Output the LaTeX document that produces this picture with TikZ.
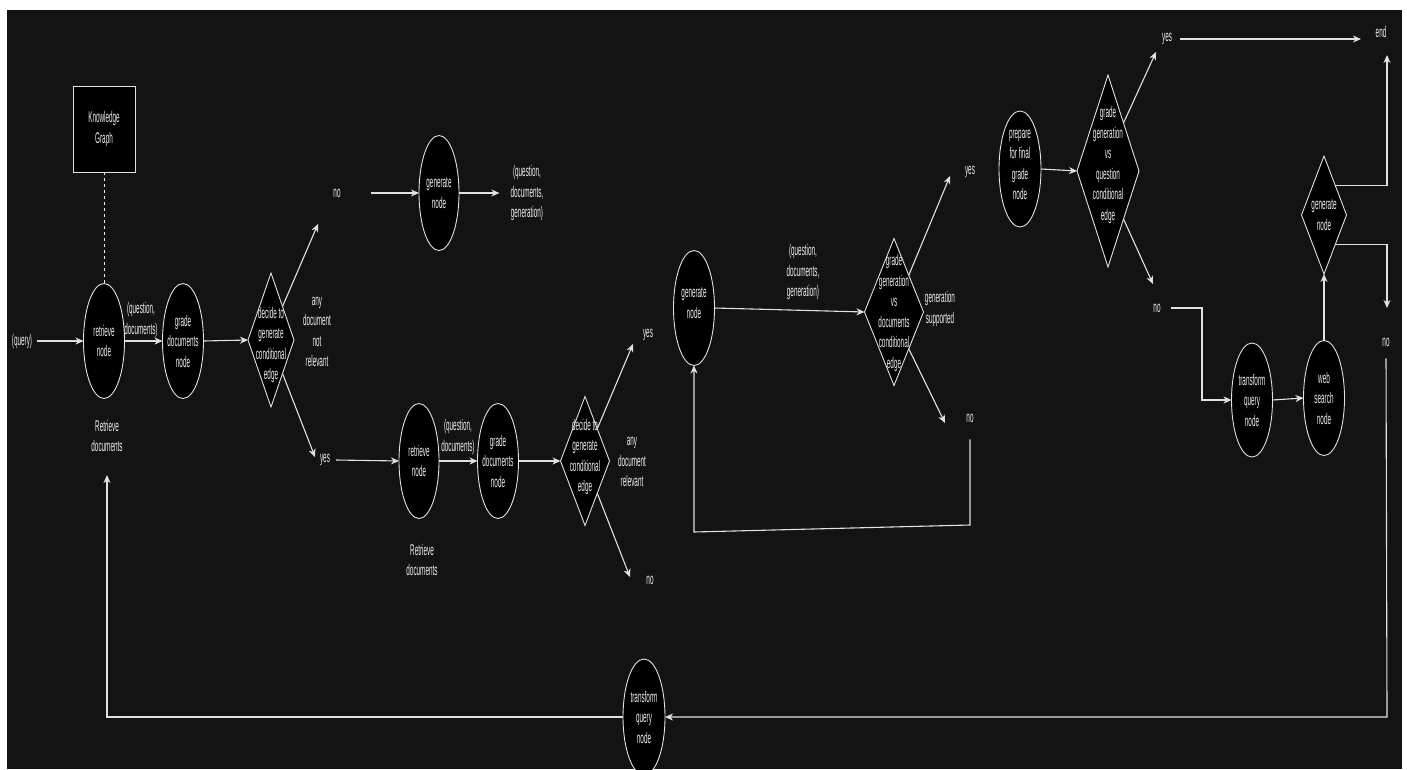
\documentclass[tikz,border=0pt]{standalone}
\usepackage{fontspec}
\setmainfont{Liberation Sans}[FakeStretch=0.41]
\usetikzlibrary{shapes.geometric,arrows.meta}
\definecolor{bg}{RGB}{19,19,19}
\definecolor{lc}{RGB}{225,225,225}
\definecolor{tx}{RGB}{238,238,238}
\begin{document}
\begin{tikzpicture}[x=1pt,y=-1pt,
 txt/.style={text=tx,align=center,font=\fontsize{15.5}{20.5}\selectfont,inner sep=0pt},
 ell/.style={ellipse,draw=lc,fill=black,line width=0.9pt,minimum width=41pt,minimum height=115pt,inner sep=0pt,outer sep=0pt},
 dia/.style={diamond,draw=lc,fill=black,line width=0.9pt,inner sep=0pt,outer sep=0pt},
 arr/.style={draw=lc,line width=1.1pt,-{Stealth[length=8pt,width=7pt,inset=2.5pt]}},
 wire/.style={draw=lc,line width=1.1pt}]
\useasboundingbox (0,0) rectangle (1407,769);
\clip (0,0) rectangle (1407,769);
\fill[white] (0,0) rectangle (1407,769);
\fill[bg] (7,10) rectangle (1402,769);

% ---------- left part ----------
\node[draw=lc,fill=black,line width=0.9pt,minimum width=62pt,minimum height=86pt,inner sep=0pt] (kg) at (104,129) {};
\node[txt] (kgt) at (kg) {Knowledge\\Graph};
\node[txt] (query) at (22,341) {(query)};
\node[ell] (r1) at (104,341) {};
\node[txt] (r1t) at (r1) {retrieve\\node};
\node[txt] (l1) at (141,320) {(question,\\documents)};
\node[ell] (g1) at (183,341) {};
\node[txt] (g1t) at (g1) {grade\\documents\\node};
\node[dia,minimum width=46pt,minimum height=134pt] (d1) at (271,340) {};
\node[txt] (d1t) at (271,345) {decide to\\generate\\conditional\\edge};
\node[txt] (a1) at (317,332) {any\\document\\not\\relevant};
\node[txt] (no1) at (337,193) {no};
\node[txt] (yes1) at (325,460) {yes};
\node[txt] (rd1) at (107,436) {Retrieve\\documents};

\draw[dashed,draw=lc!70,line width=0.7pt] (kg.south) -- (r1.north);
\draw[arr] ([xshift=5pt]query.east) -- (r1.west);
\draw[arr] (r1.east) -- (g1.west);
\draw[arr] (g1.east) -- (d1.west);
\coordinate (e1) at (318,224);
\coordinate (e2) at (315,457);
\draw[arr] (d1.north east) -- (e1);
\draw[arr] (d1.south east) -- (e2);

% ---------- upper generate ----------
\node[ell,minimum width=40pt] (gen1) at (439,193) {};
\node[txt] (gen1t) at (gen1) {generate\\node};
\node[txt] (out1) at (527,193) {(question,\\documents,\\generation)};
\draw[arr] ([xshift=30pt]no1.east) -- (gen1.west);
\draw[arr] (gen1.east) -- ([xshift=-11pt]out1.west);

% ---------- lower chain ----------
\node[ell,minimum width=40pt] (r2) at (419,461) {};
\node[txt] (r2t) at (r2) {retrieve\\node};
\node[txt] (l2) at (458,437) {(question,\\documents)};
\node[ell] (g2) at (498,461) {};
\node[txt] (g2t) at (g2) {grade\\documents\\node};
\node[dia,minimum width=49pt,minimum height=129pt] (d2) at (585,461) {};
\node[txt] (d2t) at (585,457) {decide to\\generate\\conditional\\edge};
\node[txt] (a2) at (632,462) {any\\document\\relevant};
\node[txt] (yes2) at (648,335) {yes};
\node[txt] (no2) at (650,580) {no};
\node[txt] (rd2) at (422,560) {Retrieve\\documents};
\draw[arr] ([xshift=6pt]yes1.east) -- (r2.west);
\draw[arr] (r2.east) -- (g2.west);
\draw[arr] (g2.east) -- (d2.west);
\coordinate (e3) at (633,344);
\coordinate (e4) at (630,577);
\draw[arr] (d2.north east) -- (e3);
\draw[arr] (d2.south east) -- (e4);

% ---------- middle ----------
\node[ell] (gen2) at (694,308) {};
\node[txt] (gen2t) at (694,303) {generate\\node};
\node[txt] (l3) at (803,272) {(question,\\documents,\\generation)};
\node[dia,minimum width=59pt,minimum height=147pt] (d3) at (894,312) {};
\node[txt] (d3t) at (894,313) {grade\\generation\\vs\\documents\\conditional\\edge};
\node[txt] (gs) at (940,309) {generation\\supported};
\node[txt] (yes3) at (970,172) {yes};
\node[txt] (no3) at (970,418) {no};
\draw[arr] (gen2.east) -- (d3.west);
\coordinate (e5) at (950,176);
\coordinate (e6) at (945,423);
\draw[arr] (d3.north east) -- (e5);
\draw[arr] (d3.south east) -- (e6);
\coordinate (c1) at (970,525);
\coordinate (c2) at (694,532);
\draw[arr] ([yshift=-17pt]no3.south) -- (c1) -- (c2) -- (gen2.south);

% ---------- right ----------
\node[ell,minimum width=42pt,minimum height=116pt] (pf) at (1020,169) {};
\node[txt] (pft) at (1020,165) {prepare\\for final\\grade\\node};
\node[dia,minimum width=62pt,minimum height=192pt] (d4) at (1108,171) {};
\node[txt] (d4t) at (1108,165) {grade\\generation\\vs\\question\\conditional\\edge};
\node[txt] (yes4) at (1167,39) {yes};
\node[txt] (end) at (1381,32) {end};
\node[txt] (no4) at (1157,308) {no};
\node[ell,minimum height=114pt] (tq1) at (1252,400) {};
\node[txt] (tq1t) at (tq1) {transform\\query\\node};
\node[ell] (ws) at (1324,398) {};
\node[txt] (wst) at (ws) {web\\search\\node};
\node[dia,minimum width=45pt,minimum height=118pt] (d5) at (1324,215) {};
\node[txt] (d5t) at (d5) {generate\\node};
\node[txt] (no5) at (1386,342) {no};

\draw[arr] (pf.east) -- (d4.west);
\coordinate (e7) at (1156,52);
\coordinate (e8) at (1153,284);
\draw[arr] (d4.north east) -- (e7);
\draw[arr] (d4.south east) -- (e8);
\draw[arr] ([xshift=8pt]yes4.east) -- (1361,39);
\coordinate (c3) at (1202,308);
\draw[arr] ([xshift=10pt]no4.east) -- (c3) |- (tq1.west);
\draw[arr] (tq1.east) -- (ws.west);
\draw[arr] (ws.north) -- (d5.south);
\coordinate (c4) at (1387,185.5);
\coordinate (c5) at (1387,244.5);
\draw[arr] (d5.north east) -- (c4) -- (1387,55);
\draw[arr] (d5.south east) -- (c5) -- (1387,308);

% ---------- bottom loop ----------
\node[ell,minimum width=42pt,minimum height=116pt] (tq2) at (644,717) {};
\node[txt] (tq2t) at (tq2) {transform\\query\\node};
\coordinate (c6) at (1387,717);
\coordinate (c7) at (107,717);
\draw[arr] ([yshift=-12pt]no5.south) -- (c6) -- (tq2.east);
\draw[arr] (tq2.west) -- (c7) -- (107,475);
\end{tikzpicture}
\end{document}
